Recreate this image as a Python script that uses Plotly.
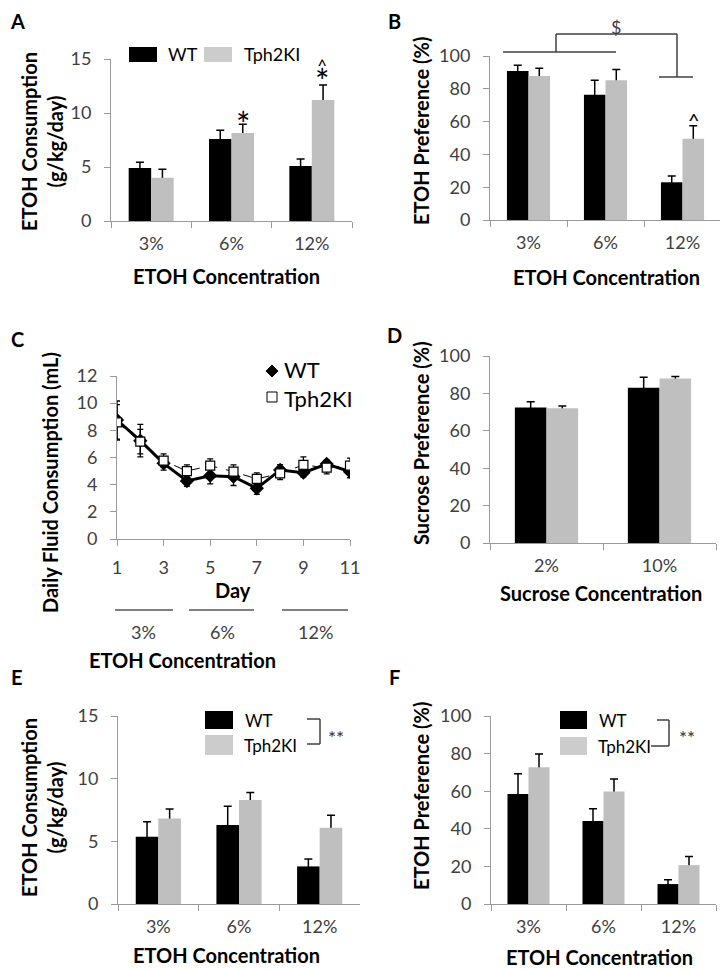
import plotly.graph_objects as go

# the page body has an 8px margin, so the figure is 8px smaller than the window
OFF = 8
W, H = 728 - OFF, 969 - OFF

conc = ['3%', '6%', '12%']
sucrose_conc = ['2%', '10%']
days = [1, 2, 3, 4, 5, 6, 7, 8, 9, 10, 11]

# A - ETOH consumption, first test
a_wt = [4.9, 7.6, 5.1]
a_wt_err = [0.55, 0.8, 0.65]
a_ki = [4.0, 8.15, 11.2]
a_ki_err = [0.8, 0.8, 1.4]

# B - ETOH preference
b_wt = [90.9, 76.4, 23.0]
b_wt_err = [3.4, 8.8, 3.8]
b_ki = [87.8, 85.2, 49.6]
b_ki_err = [4.7, 6.5, 7.9]

# C - daily fluid consumption
c_wt = [8.76, 7.24, 5.57, 4.27, 4.66, 4.59, 3.73, 5.08, 4.88, 5.52, 4.96]
c_wt_err = [1.4, 1.2, 0.5, 0.4, 0.6, 0.65, 0.45, 0.4, 0.3, 0.3, 0.45]
c_ki = [8.59, 7.17, 5.77, 5.0, 5.4, 4.96, 4.42, 4.83, 5.45, 5.25, 5.4]
c_ki_err = [1.3, 0.9, 0.5, 0.45, 0.5, 0.5, 0.45, 0.45, 0.6, 0.45, 0.55]

# D - sucrose preference
d_wt = [72.5, 83.0]
d_wt_err = [3.0, 5.6]
d_ki = [72.1, 88.0]
d_ki_err = [1.1, 1.1]

# E - ETOH consumption, second test
e_wt = [5.37, 6.30, 3.0]
e_wt_err = [1.2, 1.5, 0.6]
e_ki = [6.83, 8.30, 6.09]
e_ki_err = [0.75, 0.6, 1.0]

# F - ETOH preference, second test
f_wt = [58.5, 44.1, 10.6]
f_wt_err = [10.8, 6.6, 2.3]
f_ki = [72.7, 59.9, 20.7]
f_ki_err = [7.1, 6.6, 4.5]

BLACK = '#000000'
GRAY = '#bfbfbf'
LEG_GRAY = '#cccccc'
AXIS = '#9a9a9a'
TICK = '#404040'
FONT = 'Lato'


def px(x):
    return (x - OFF) / W


def py(y):
    return 1 - (y - OFF) / H


fig = go.Figure()


def ax_names(n):
    s = '' if n == 1 else str(n)
    return 'x' + s, 'y' + s


def bar_panel(n, cats, wt, wt_err, ki, ki_err):
    xa, ya = ax_names(n)
    groups = (('WT', wt, wt_err, BLACK), ('Tph2KI', ki, ki_err, GRAY))
    # error bars first so the bars hide the lower half, like excel
    for name, vals, err, col in groups:
        fig.add_trace(go.Bar(x=cats, y=vals, offsetgroup=name, xaxis=xa, yaxis=ya,
                             marker=dict(color='rgba(0,0,0,0)', line_width=0),
                             error_y=dict(type='data', array=err, color='black', thickness=1.5, width=4),
                             showlegend=False, hoverinfo='skip'))
    for name, vals, err, col in groups:
        fig.add_trace(go.Bar(x=cats, y=vals, offsetgroup=name, name=name, xaxis=xa, yaxis=ya,
                             marker=dict(color=col, line_width=0), showlegend=False))


bar_panel(1, conc, a_wt, a_wt_err, a_ki, a_ki_err)
bar_panel(2, conc, b_wt, b_wt_err, b_ki, b_ki_err)
bar_panel(4, sucrose_conc, d_wt, d_wt_err, d_ki, d_ki_err)
bar_panel(5, conc, e_wt, e_wt_err, e_ki, e_ki_err)
bar_panel(6, conc, f_wt, f_wt_err, f_ki, f_ki_err)

fig.add_trace(go.Scatter(x=days, y=c_wt, mode='lines+markers', xaxis='x3', yaxis='y3',
                         line=dict(color='black', width=3),
                         marker=dict(symbol='diamond', size=11, color='black'),
                         error_y=dict(type='data', array=c_wt_err, color='black', thickness=1.3, width=3),
                         showlegend=False, name='WT'))
fig.add_trace(go.Scatter(x=days, y=c_ki, mode='lines+markers', xaxis='x3', yaxis='y3',
                         line=dict(color='black', width=1, dash='dash'),
                         marker=dict(symbol='square', size=9, color='white', line=dict(color='black', width=1.2)),
                         error_y=dict(type='data', array=c_ki_err, color='black', thickness=1.3, width=3),
                         showlegend=False, name='Tph2KI'))

tickfont = dict(family=FONT, size=18, color=TICK)

# (x0, x1, ytop, ybottom) in window pixels
panels = {
    1: (111, 352, 59, 221),
    2: (490, 721, 56, 220),
    3: (117, 350, 376, 539),
    4: (490, 716, 356, 543),
    5: (118, 360, 716, 904),
    6: (491, 716, 716, 904),
}
yranges = {1: [0, 15], 2: [0, 100], 3: [0, 12], 4: [0, 100], 5: [0, 15], 6: [0, 100]}
ydticks = {1: 5, 2: 20, 3: 2, 4: 20, 5: 5, 6: 20}
ncats = {1: 3, 2: 3, 4: 2, 5: 3, 6: 3}

layout = {}
for n, (x0, x1, yt, yb) in panels.items():
    s = '' if n == 1 else str(n)
    xa = dict(domain=[px(x0), px(x1)], anchor='y' + s, showline=True, linecolor=AXIS, linewidth=1,
              ticks='outside', ticklen=6, tickcolor=AXIS, showgrid=False, zeroline=False,
              tickfont=tickfont, ticklabelstandoff=6, fixedrange=True, automargin=False)
    if n == 3:
        xa.update(type='linear', range=[1, 11], tickvals=[1, 3, 5, 7, 9, 11])
    else:
        xa.update(type='category', tickson='boundaries', range=[-0.5, ncats[n] - 0.5])
    ya = dict(domain=[py(yb), py(yt)], anchor='x' + s, showline=True, linecolor=AXIS, linewidth=1,
              ticks='outside', ticklen=6, tickcolor=AXIS, showgrid=False, zeroline=False,
              range=yranges[n], dtick=ydticks[n], tickfont=tickfont, ticklabelstandoff=9,
              fixedrange=True, automargin=False)
    layout['xaxis' + s] = xa
    layout['yaxis' + s] = ya

fig.update_layout(**layout)

annotations = []
shapes = []


def text(t, x, y, size=20, bold=False, angle=0, anchor='center', color='black', align='center'):
    if bold:
        t = '<b>' + t + '</b>'
    annotations.append(dict(text=t, x=px(x), y=py(y), xref='paper', yref='paper', showarrow=False,
                            xanchor=anchor, yanchor='middle', textangle=angle, align=align,
                            font=dict(family=FONT, size=size, color=color)))


def line(x0, y0, x1, y1, color='#404040', width=1.5):
    shapes.append(dict(type='line', xref='paper', yref='paper', x0=px(x0), y0=py(y0), x1=px(x1), y1=py(y1),
                       line=dict(color=color, width=width)))


def rect(x0, y0, x1, y1, color, outline=None):
    shapes.append(dict(type='rect', xref='paper', yref='paper', x0=px(x0), y0=py(y0), x1=px(x1), y1=py(y1),
                       fillcolor=color, line=dict(color=outline or color, width=1 if outline else 0)))


# panel letters
for t, x, y in (('A', 17, 21), ('B', 394, 21), ('C', 17, 339), ('D', 394, 335), ('E', 17, 677), ('F', 394, 677)):
    text(t, x, y, size=20, bold=True)

# axis titles
text('ETOH Consumption<br>(g/kg/day)', 42, 142, bold=True, angle=-90)
text('ETOH Preference (%)', 421, 131, bold=True, angle=-90)
text('Daily Fluid Consumption (mL)', 50, 483, bold=True, angle=-90)
text('Sucrose Preference (%)', 421, 443, bold=True, angle=-90)
text('ETOH Consumption<br>(g/kg/day)', 42, 808, bold=True, angle=-90)
text('ETOH Preference (%)', 421, 796, bold=True, angle=-90)

text('ETOH Concentration', 227, 276, bold=True)
text('ETOH Concentration', 606, 277, bold=True)
text('Day', 233, 590, bold=True)
text('Sucrose Concentration', 601, 593, bold=True)
text('ETOH Concentration', 227, 955, bold=True)
text('ETOH Concentration', 599, 957, bold=True)

# panel A legend and marks
rect(129, 47, 157, 62, BLACK)
text('WT', 166, 54, size=18, anchor='left')
rect(204, 47, 232, 62, LEG_GRAY)
text('Tph2KI', 242, 54, size=18, anchor='left')
text('*', 243, 124, size=34, color='black')
# caret and star stacked over the 12% bar
text('^<br><span style="font-size:34px">*</span>', 322, 78, size=17)

# panel B brackets
line(503, 52, 616, 52)
line(556, 52, 556, 34)
line(556, 34, 677, 34)
line(677, 34, 677, 77)
line(659, 77, 693, 77)
text('$', 616, 27, size=18, color='#404040')
text('^', 694, 120, size=20)

# panel C legend and concentration blocks
shapes.append(dict(type='path', xref='paper', yref='paper', fillcolor='black', line=dict(color='black', width=1),
                   path='M %f,%f L %f,%f L %f,%f L %f,%f Z' % (px(266), py(371), px(272), py(365),
                                                              px(278), py(371), px(272), py(377))))
rect(267, 392, 277, 402, 'white', outline='black')
text('WT<br>Tph2KI', 282, 384, size=22, anchor='left', align='left')
line(115, 610, 173, 610, color='black', width=1)
line(189, 610, 254, 610, color='black', width=1)
line(282, 610, 348, 610, color='black', width=1)
text('3%', 143, 632, size=18, color=TICK)
text('6%', 222, 632, size=18, color=TICK)
text('12%', 315, 632, size=18, color=TICK)
text('ETOH Concentration', 182, 660, bold=True)

# panel E legend
rect(205, 711, 233, 729, BLACK)
rect(205, 735, 233, 755, LEG_GRAY)
text('WT', 243, 720, size=17, anchor='left')
text('Tph2KI', 242, 745, size=17, anchor='left')
line(307, 719, 320, 719)
line(320, 719, 320, 744)
line(307, 744, 320, 744)
text('**', 336, 737, size=19, color='#333333')

# panel F legend
rect(560, 711, 587, 729, BLACK)
rect(560, 737, 587, 755, LEG_GRAY)
text('WT', 597, 720, size=17, anchor='left')
text('Tph2KI', 596, 746, size=17, anchor='left')
line(657, 720, 669, 720)
line(669, 720, 669, 746)
line(651, 746, 669, 746)
text('**', 687, 737, size=19, color='#333333')

fig.update_layout(width=W, height=H, autosize=False, margin=dict(l=0, r=0, t=0, b=0, pad=0),
                  plot_bgcolor='white', paper_bgcolor='white',
                  barmode='group', bargap=0.44, bargroupgap=0,
                  annotations=annotations, shapes=shapes, showlegend=False,
                  font=dict(family=FONT))

fig.write_html('out.html')
